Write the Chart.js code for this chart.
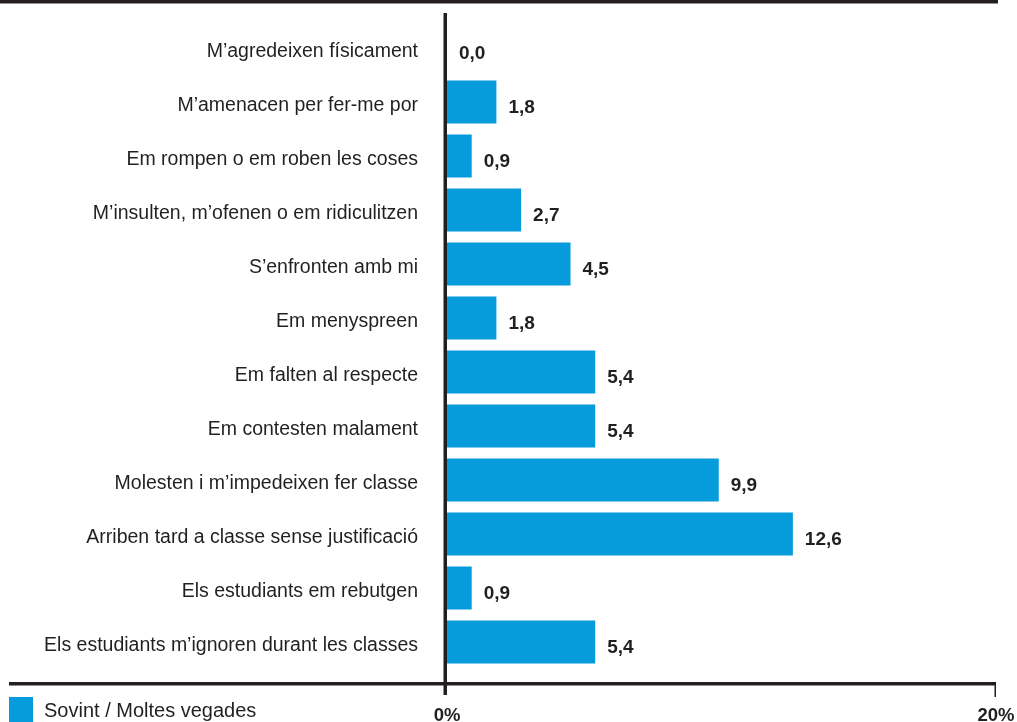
<!DOCTYPE html>
<html><head><meta charset="utf-8">
<script src="https://cdn.jsdelivr.net/npm/chart.js@4/dist/chart.umd.min.js"></script>
<style>html,body{margin:0;padding:0;background:#fff}#wrap{width:1017px;height:722px;position:relative}</style>
</head><body><div id="wrap"><canvas id="c"></canvas></div>
<script>
const categories = [
  "M\u2019agredeixen físicament",
  "M\u2019amenacen per fer-me por",
  "Em rompen o em roben les coses",
  "M\u2019insulten, m\u2019ofenen o em ridiculitzen",
  "S\u2019enfronten amb mi",
  "Em menyspreen",
  "Em falten al respecte",
  "Em contesten malament",
  "Molesten i m\u2019impedeixen fer classe",
  "Arriben tard a classe sense justificació",
  "Els estudiants em rebutgen",
  "Els estudiants m\u2019ignoren durant les classes"
];
const values = [0.0, 1.8, 0.9, 2.7, 4.5, 1.8, 5.4, 5.4, 9.9, 12.6, 0.9, 5.4];
const seriesLabel = "Sovint / Moltes vegades";
const tickValues = [0, 20];
const tickLabels = ["0%", "20%"];

const INK = "#231f20";
const BLUE = "#069cdb";
const FONT = "'Liberation Sans', Arial, Helvetica, sans-serif";

const decor = {
  id: "decor",
  afterDraw(chart) {
    const ctx = chart.ctx, a = chart.chartArea, xs = chart.scales.x;
    ctx.save();
    ctx.fillStyle = INK;
    ctx.fillRect(0, 0, a.right + 2, 3.5);
    ctx.fillRect(a.left - 3.5, 13, 3.5, a.bottom + 26 - 13);
    const xr = xs.getPixelForValue(tickValues[1]);
    ctx.fillRect(9, a.bottom + 13, xr - 9, 3.5);
    ctx.fillRect(xr - 1.5, a.bottom + 13, 1.5, 15);
    ctx.font = "bold 19px " + FONT;
    ctx.textAlign = "left";
    ctx.textBaseline = "middle";
    const meta = chart.getDatasetMeta(0);
    meta.data.forEach((bar, i) => {
      const txt = values[i].toFixed(1).replace(".", ",");
      ctx.fillText(txt, bar.x + 12, bar.y + 5.5);
    });
    ctx.fillStyle = BLUE;
    ctx.fillRect(9, 697, 24, 25);
    ctx.fillStyle = INK;
    ctx.font = "20px " + FONT;
    ctx.fillText(seriesLabel, 44, 711);
    ctx.restore();
  }
};

new Chart(document.getElementById("c"), {
  type: "bar",
  data: {
    labels: categories,
    datasets: [{
      label: seriesLabel,
      data: values,
      backgroundColor: BLUE,
      borderWidth: 0,
      barPercentage: 0.8,
      categoryPercentage: 1.0
    }]
  },
  options: {
    indexAxis: "y",
    responsive: true,
    maintainAspectRatio: false,
    animation: false,
    layout: { padding: { top: 21, right: 21, bottom: 0, left: 0 } },
    plugins: { legend: { display: false }, tooltip: { enabled: false } },
    scales: {
      x: {
        min: tickValues[0],
        max: tickValues[1],
        afterBuildTicks: s => { s.ticks = tickValues.map(v => ({ value: v })); },
        afterFit: s => { s.height = 53; s.paddingLeft = 0; s.paddingRight = 0; },
        grid: { display: false, drawTicks: false },
        border: { display: false },
        ticks: {
          autoSkip: false,
          maxRotation: 0,
          padding: 36,
          color: INK,
          font: { family: FONT, size: 18.5, weight: "bold" },
          callback: (v, i) => tickLabels[i]
        }
      },
      y: {
        type: "category",
        offset: true,
        afterFit: s => { s.width = 447; s.paddingTop = 0; s.paddingBottom = 0; },
        grid: { display: false, drawTicks: false },
        border: { display: false },
        ticks: {
          padding: 29,
          labelOffset: 4,
          color: INK,
          font: { family: FONT, size: 19.5 }
        }
      }
    }
  },
  plugins: [decor]
});
</script>
</body></html>
